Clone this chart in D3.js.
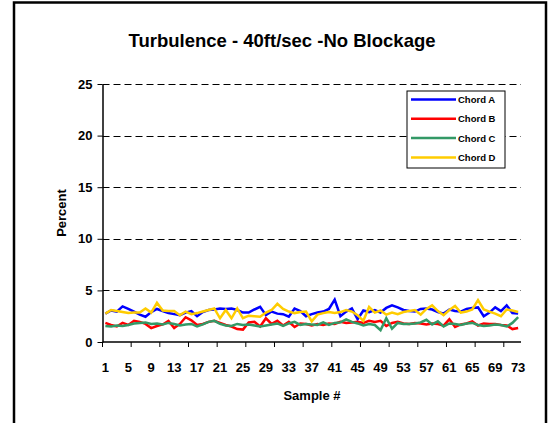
<!DOCTYPE html>
<html>
<head>
<meta charset="utf-8">
<script src="https://cdn.jsdelivr.net/npm/d3@7/dist/d3.min.js"></script>
<style>
  html, body { margin: 0; padding: 0; background: #fff; }
  svg { display: block; font-family: "Liberation Sans", Arial, sans-serif; }
</style>
</head>
<body>
<svg id="chart" width="554" height="423"></svg>
<script>
const samples = d3.range(1, 74);
const seriesNames = ["Chord A", "Chord B", "Chord C", "Chord D"];
const chordA = [2.75,3.05,2.95,3.45,3.2,2.95,2.65,2.45,2.9,3.2,3.0,2.8,2.7,2.6,2.85,3.0,2.5,2.9,3.1,3.15,3.25,3.2,3.25,3.1,2.85,2.85,3.15,3.4,2.6,2.95,2.75,2.7,2.45,3.25,3.0,2.5,2.7,2.85,2.95,3.2,4.1,2.5,2.95,3.25,2.2,3.05,2.9,3.1,2.85,3.3,3.55,3.35,3.1,3.0,2.95,3.2,3.25,3.15,2.9,2.75,3.15,3.0,2.95,3.2,3.3,3.35,2.5,2.85,3.35,3.0,3.55,2.8,2.75];
const chordB = [1.85,1.65,1.5,1.85,1.65,2.05,1.95,1.75,1.35,1.55,1.7,2.05,1.35,1.75,2.4,2.1,1.65,1.75,1.95,2.05,1.85,1.65,1.5,1.25,1.2,1.9,1.95,1.5,2.3,1.75,2.05,1.6,1.95,1.45,1.8,1.75,1.6,1.75,1.65,1.8,1.75,1.95,1.85,1.9,1.95,1.85,2.05,1.95,2.05,1.55,1.85,1.95,1.8,1.75,1.85,1.8,1.7,1.8,1.75,1.6,2.2,1.45,1.7,1.8,2.0,1.6,1.8,1.75,1.75,1.65,1.6,1.25,1.35];
const chordC = [1.55,1.5,1.6,1.55,1.65,1.8,1.85,1.9,1.75,1.8,1.7,1.85,1.75,1.6,1.7,1.75,1.5,1.7,1.95,2.05,1.75,1.6,1.55,1.75,1.65,1.7,1.6,1.5,1.6,1.7,1.8,1.55,1.8,1.95,1.65,1.75,1.7,1.65,1.9,1.65,1.85,1.9,2.2,1.95,1.8,1.6,1.75,1.65,1.15,2.3,1.3,1.85,1.75,1.75,1.8,1.9,2.15,1.7,2.0,1.5,1.8,1.75,1.65,1.8,1.85,1.65,1.55,1.6,1.7,1.65,1.5,1.85,2.4];
const chordD = [2.75,3.1,3.0,2.9,2.8,2.85,2.85,3.25,2.85,3.8,3.05,3.0,3.0,2.6,2.95,2.7,2.8,2.95,3.1,3.25,2.3,3.1,2.3,3.25,2.3,2.55,2.5,2.45,2.85,3.1,3.7,3.2,2.95,2.8,2.9,2.95,2.0,2.65,2.8,2.9,2.8,2.9,3.1,2.95,2.6,2.05,3.4,2.85,3.05,2.65,2.85,2.7,2.9,3.0,3.1,2.65,3.2,3.55,3.0,2.6,3.1,3.5,2.85,2.95,3.15,4.05,3.15,2.95,2.75,2.5,3.15,3.05,2.9];
const seriesColors = ["#0000FF", "#FF0000", "#339966", "#FFCC00"];
const yTicks = [0, 5, 10, 15, 20, 25];
const xLabelSamples = d3.range(1, 74, 4);
const xTickSamples = d3.range(1, 74, 5);

const allSeries = [chordA, chordB, chordC, chordD];
const svg = d3.select("#chart");

// outer frame
svg.append("rect").attr("x", 14).attr("y", 2.5).attr("width", 532).attr("height", 430)
  .attr("fill", "none").attr("stroke", "#000").attr("stroke-width", 2.5);

const pLeft = 102.5, pRight = 521, pTop = 84, pBottom = 342;
const x = d3.scalePoint().domain(samples).range([pLeft, pRight]).padding(0.5);
const y = d3.scaleLinear().domain([0, 25]).range([pBottom, pTop]);
const step = x.step();

// title
svg.append("text").attr("x", 282).attr("y", 47).attr("text-anchor", "middle")
  .attr("font-size", 18.5).attr("font-weight", "bold").text("Turbulence - 40ft/sec -No Blockage");

// gridlines
svg.append("g").selectAll("line").data(yTicks.filter(d => d > 0)).join("line")
  .attr("x1", pLeft).attr("x2", pRight)
  .attr("y1", d => Math.round(y(d)) + 0.5).attr("y2", d => Math.round(y(d)) + 0.5)
  .attr("stroke", "#000").attr("stroke-width", 1).attr("stroke-dasharray", "7,4");

// y axis
const yAxis = svg.append("g").attr("transform", `translate(${pLeft},0)`)
  .call(d3.axisLeft(y).tickValues(yTicks).tickSize(5).tickPadding(5).tickSizeOuter(0));
yAxis.select(".domain").attr("stroke", "#000").attr("stroke-width", 1.5);
yAxis.selectAll(".tick line").attr("stroke", "#000");
yAxis.selectAll("text").attr("font-size", 13).attr("font-weight", "bold")
  .attr("font-family", '"Liberation Sans", Arial, sans-serif').attr("fill", "#000");

// x axis line
svg.append("line").attr("x1", pLeft).attr("x2", pRight).attr("y1", pBottom).attr("y2", pBottom)
  .attr("stroke", "#000").attr("stroke-width", 1.5);
// x ticks (between categories)
svg.append("g").selectAll("line").data(xTickSamples).join("line")
  .attr("x1", d => x(d) - step / 2).attr("x2", d => x(d) - step / 2)
  .attr("y1", pBottom).attr("y2", pBottom + 5).attr("stroke", "#000").attr("stroke-width", 1);
// x labels
svg.append("g").selectAll("text").data(xLabelSamples).join("text")
  .attr("x", d => x(d)).attr("y", 372).attr("text-anchor", "middle")
  .attr("font-size", 13).attr("font-weight", "bold").text(d => d);

// axis titles
svg.append("text").attr("x", 312).attr("y", 400).attr("text-anchor", "middle")
  .attr("font-size", 13).attr("font-weight", "bold").text("Sample #");
svg.append("text").attr("transform", "translate(66,213) rotate(-90)").attr("text-anchor", "middle")
  .attr("font-size", 13).attr("font-weight", "bold").text("Percent");

// series lines
const line = d3.line().x((d, i) => x(samples[i])).y(d => y(d));
svg.append("g").selectAll("path").data(allSeries).join("path")
  .attr("d", d => line(d)).attr("fill", "none")
  .attr("stroke", (d, i) => seriesColors[i]).attr("stroke-width", 2.5)
  .attr("stroke-linejoin", "miter");

// legend
const lg = svg.append("g");
lg.append("rect").attr("x", 407).attr("y", 91).attr("width", 98).attr("height", 77)
  .attr("fill", "#fff").attr("stroke", "#000").attr("stroke-width", 1);
const items = lg.selectAll("g.item").data(seriesNames).join("g").attr("class", "item")
  .attr("transform", (d, i) => `translate(0,${99.5 + i * 19.3})`);
items.append("line").attr("x1", 411).attr("x2", 456).attr("y1", 0).attr("y2", 0)
  .attr("stroke", (d, i) => seriesColors[i]).attr("stroke-width", 2.5);
items.append("text").attr("x", 458).attr("y", 3.5).attr("font-size", 9.5).attr("font-weight", "bold").text(d => d);
</script>
</body>
</html>
